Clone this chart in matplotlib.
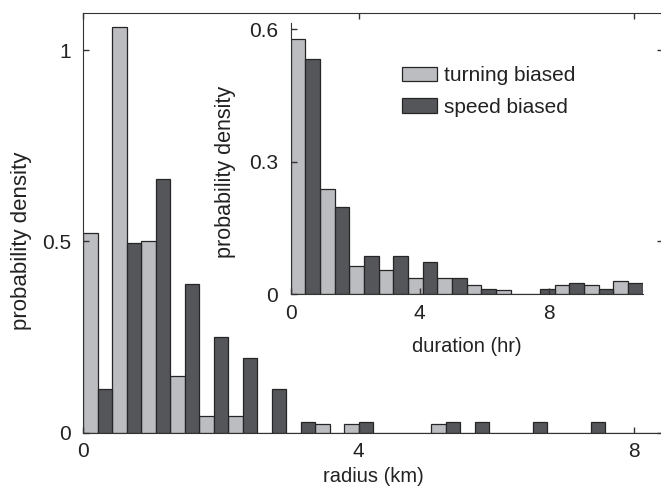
import numpy as np
import matplotlib
matplotlib.use("Agg")
import matplotlib.pyplot as plt

plt.rcParams['font.family'] = ['Liberation Sans', 'DejaVu Sans']

# radius histogram (main panel), 20 bins
radius_bin_width = 0.4213
turning_radius = [0.522, 1.06, 0.50, 0.147, 0.044, 0.044, 0, 0, 0.022, 0.022,
                  0, 0, 0.022, 0, 0, 0, 0, 0, 0, 0]
speed_radius = [0.114, 0.497, 0.662, 0.388, 0.25, 0.195, 0.114, 0.029, 0, 0.029,
                0, 0, 0.029, 0.029, 0, 0.029, 0, 0.029, 0, 0]

# duration histogram (inset), 12 bins
duration_bin_width = 0.9085
turning_duration = [0.578, 0.238, 0.065, 0.055, 0.038, 0.038, 0.02, 0.01, 0, 0.02, 0.02, 0.029]
speed_duration = [0.533, 0.198, 0.087, 0.087, 0.074, 0.038, 0.013, 0, 0.013, 0.026, 0.013, 0.026]

labels = ["turning biased", "speed biased"]

LIGHT = "#bcbdc1"
DARK = "#545659"
EDGE = "#262626"
TXT = "#222222"
SPINE = "#333333"


def paired_bars(ax, light, dark, width):
    starts = np.arange(len(light)) * width
    b1 = ax.bar(starts, light, width=width / 2, align='edge', color=LIGHT,
                edgecolor=EDGE, linewidth=0.9, label=labels[0])
    b2 = ax.bar(starts + width / 2, dark, width=width / 2, align='edge', color=DARK,
                edgecolor=EDGE, linewidth=0.9, label=labels[1])
    return b1, b2


W, H = 661, 496
fig = plt.figure(figsize=(6.61, 4.96), dpi=100)

# main axes
ax = fig.add_axes([83.3 / W, 1 - 432.7 / H, (663.4 - 83.3) / W, (432.7 - 13.3) / H])
paired_bars(ax, turning_radius, speed_radius, radius_bin_width)
ax.set_xlim(0, len(turning_radius) * radius_bin_width)
ax.set_ylim(0, 1.096)
ax.set_xticks([0, 4, 8])
ax.set_xticklabels(["0", "4", "8"])
ax.set_yticks([0, 0.5, 1])
ax.set_yticklabels(["0", "0.5", "1"])
ax.tick_params(direction='in', length=4, width=1, colors=SPINE, labelcolor=TXT,
               labelsize=15, top=True, right=True)
ax.tick_params(axis='x', pad=7)
ax.tick_params(axis='y', pad=9)
for sp in ax.spines.values():
    sp.set_color(SPINE)
    sp.set_linewidth(0.8)
ax.set_xlabel("radius (km)", fontsize=14.5, color=TXT, labelpad=4)
ax.set_ylabel("probability density", fontsize=16, color=TXT)
ax.yaxis.set_label_coords(-0.088, 0.457)

# inset axes
ins = fig.add_axes([290.7 / W, 1 - 294.3 / H, 351.8 / W, (294.3 - 22.7) / H])
ins.patch.set_alpha(0)
h1, h2 = paired_bars(ins, turning_duration, speed_duration, duration_bin_width)
ins.set_xlim(0, len(turning_duration) * duration_bin_width)
ins.set_ylim(0, 0.615)
ins.set_xticks([0, 4, 8])
ins.set_xticklabels(["0", "4", "8"])
ins.set_yticks([0, 0.3, 0.6])
ins.set_yticklabels(["0", "0.3", "0.6"])
ins.spines['top'].set_visible(False)
ins.spines['right'].set_visible(False)
for sp in ('left', 'bottom'):
    ins.spines[sp].set_color(SPINE)
    ins.spines[sp].set_linewidth(0.8)
ins.tick_params(direction='in', length=4, width=1, colors=SPINE, labelcolor=TXT,
                labelsize=15)
ins.tick_params(axis='x', pad=7)
ins.tick_params(axis='y', pad=9)
ins.set_xlabel("duration (hr)", fontsize=14.5, color=TXT, labelpad=10)
ins.set_ylabel("probability density", fontsize=15.5, color=TXT)
ins.yaxis.set_label_coords(-0.155, 0.451)

fig.legend([h1, h2], labels, loc='upper left',
           bbox_to_anchor=(401.7 / W, 1 - 66 / H), bbox_transform=fig.transFigure,
           frameon=False, fontsize=15, handlelength=1.68, handleheight=0.68,
           handletextpad=0.35, labelspacing=0.62, borderpad=0, borderaxespad=0,
           labelcolor=TXT)

fig.savefig("out.png", dpi=100)
